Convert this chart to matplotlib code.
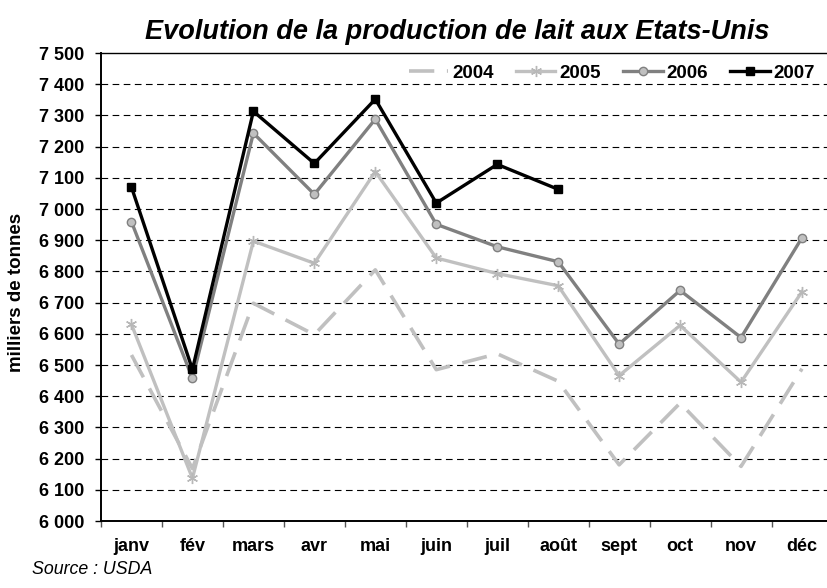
import matplotlib
matplotlib.use("Agg")
import matplotlib.pyplot as plt
from matplotlib.ticker import FuncFormatter, FixedLocator

months = ["janv", "fév", "mars", "avr", "mai", "juin", "juil", "août", "sept", "oct", "nov", "déc"]
y2004 = [6532, 6168, 6698, 6597, 6805, 6485, 6536, 6448, 6180, 6378, 6175, 6488]
y2005 = [6630, 6137, 6897, 6826, 7120, 6843, 6793, 6754, 6466, 6627, 6445, 6735]
y2006 = [6959, 6457, 7243, 7047, 7288, 6951, 6879, 6831, 6567, 6739, 6588, 6908]
y2007 = [7070, 6486, 7313, 7146, 7352, 7019, 7143, 7063]
yticks = list(range(6000, 7501, 100))

plt.rcParams['font.family'] = ['Liberation Sans', 'DejaVu Sans']

fig = plt.figure(figsize=(8.28, 5.88), dpi=100)
W, H = 828, 588
left, right, top, bottom = 101, 832.5, 53, 521
ax = fig.add_axes([left / W, 1 - bottom / H, (right - left) / W, (bottom - top) / H])

x = list(range(12))
ax.plot(x, y2004, color='#c0c0c0', lw=2.6, linestyle=(0, (7, 3.5)), label='2004', zorder=3)
ax.plot(x, y2005, color='#c0c0c0', lw=2.4, marker=(6, 2, 0), markersize=8,
        markeredgecolor='#b8b8b8', markeredgewidth=1.0, label='2005', zorder=4)
ax.plot(x, y2006, color='#808080', lw=2.4, marker='o', markersize=6,
        markerfacecolor='#c0c0c0', markeredgecolor='#808080', markeredgewidth=1.0,
        label='2006', zorder=5)
ax.plot(x[:len(y2007)], y2007, color='black', lw=2.4, marker='s', markersize=6,
        markerfacecolor='black', markeredgecolor='black', label='2007', zorder=6)

ax.set_xlim(-0.5, 11.5)
ax.set_ylim(6000, 7500)

# gridlines
for v in yticks[1:-1]:
    ax.axhline(v, color='black', lw=0.8, linestyle=(0, (6, 4)), zorder=1)

ax.yaxis.set_major_locator(FixedLocator(yticks))
ax.yaxis.set_major_formatter(FuncFormatter(lambda v, p: f"{int(v):,}".replace(",", " ")))
ax.tick_params(axis='y', direction='out', length=4, width=1, color='black', pad=8,
               labelsize=13)
for lbl in ax.get_yticklabels():
    lbl.set_fontweight('bold')

ax.xaxis.set_major_locator(FixedLocator([i - 0.5 for i in range(13)]))
ax.xaxis.set_major_formatter(FuncFormatter(lambda v, p: ""))
ax.xaxis.set_minor_locator(FixedLocator(x))
ax.set_xticklabels(months, minor=True)
ax.tick_params(axis='x', which='major', direction='out', length=4, width=1, color='#555555')
ax.tick_params(axis='x', which='minor', length=0, pad=12, labelsize=13)
for lbl in ax.get_xticklabels(minor=True):
    lbl.set_fontweight('bold')

for s in ['left', 'bottom']:
    ax.spines[s].set_linewidth(1.4)
    ax.spines[s].set_color('black')
ax.spines['top'].set_linewidth(1.0)
ax.spines['top'].set_color('black')
ax.spines['right'].set_visible(False)

fig.text(17 / W, 1 - 292 / H, "milliers de tonnes", rotation=90, ha='center', va='center',
         fontsize=13.5, fontweight='bold')

fig.text(457 / W, 1 - 32 / H, "Evolution de la production de lait aux Etats-Unis",
         ha='center', va='center', fontsize=19.5, fontweight='bold', fontstyle='italic')
fig.text(32 / W, 1 - 569 / H, "Source : USDA", ha='left', va='center',
         fontsize=12.8, fontstyle='italic')

leg = fig.legend(loc='center', bbox_to_anchor=(612 / W, 1 - 73 / H), ncol=4, frameon=False,
                 handlelength=2.1, handletextpad=0.2, columnspacing=1.2,
                 borderpad=0, borderaxespad=0,
                 prop={'weight': 'bold', 'size': 13.5})

fig.savefig("out.png", dpi=100)
